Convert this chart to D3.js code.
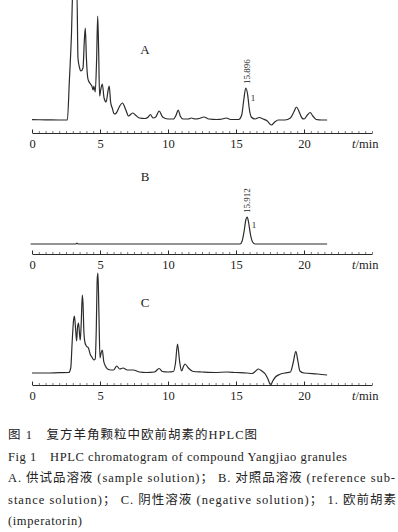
<!DOCTYPE html>
<html>
<head>
<meta charset="utf-8">
<script src="https://cdn.jsdelivr.net/npm/d3@7"></script>
<style>
  html, body { margin: 0; padding: 0; background: #fff; }
  svg { display: block; }
</style>
</head>
<body>
<svg id="chart"></svg>
<script>
// ---- Data: [time (min), signal height] ----
const traceA = [
  [0, 0.3], [1, 0.2], [2, 0], [2.6, 0], [2.75, 40], [2.9, 85], [3.0, 130], [3.1, 135],
  [3.2, 125], [3.3, 130], [3.38, 62], [3.5, 52], [3.6, 49], [3.75, 52], [3.85, 80],
  [3.92, 92], [4.0, 62], [4.1, 42], [4.2, 38], [4.3, 36], [4.4, 34], [4.5, 30],
  [4.55, 34], [4.65, 28], [4.75, 60], [4.83, 104], [4.9, 70], [4.97, 24], [5.05, 30],
  [5.17, 36], [5.3, 22], [5.45, 18], [5.6, 30], [5.68, 34], [5.78, 18], [5.9, 12],
  [6.05, 6], [6.2, 7], [6.45, 14], [6.65, 17], [6.9, 10], [7.1, 4], [7.4, 7], [7.6, 5],
  [7.9, 2], [8.3, 1.5], [8.55, 3], [8.7, 5.5], [8.9, 2], [9.1, 3], [9.35, 9], [9.6, 3],
  [10.0, 1], [10.4, 1], [10.6, 5], [10.75, 10], [10.9, 4], [11.1, 1], [11.5, 1],
  [11.7, 2], [12.0, 1], [12.3, 1.5], [12.65, 3], [13.0, 1], [13.6, 0.5], [14.0, 1],
  [14.3, 2], [14.6, 0.5], [15.2, 0.5], [15.42, 5], [15.57, 20], [15.72, 32], [15.85, 26],
  [15.97, 12], [16.12, 3], [16.4, 1], [16.7, 2.5], [17.0, 1], [17.3, -1], [17.6, -5],
  [17.85, -2], [18.1, 0], [18.6, 0], [19.0, 2], [19.25, 8], [19.45, 13], [19.65, 8],
  [19.85, 2], [20.0, 1], [20.25, 5], [20.45, 7.5], [20.65, 4], [20.9, 0.5], [21.3, 0],
  [21.7, 0]
];

const traceB = [
  [-0.1, 0], [2, 0], [3.2, 0], [3.3, 0.8], [3.4, 0], [8, 0], [12, 0], [15.3, 0],
  [15.45, 3], [15.6, 13], [15.72, 24], [15.82, 27], [15.92, 22], [16.07, 9], [16.22, 2],
  [16.4, 0], [18, 0], [21.7, 0]
];

const traceC = [
  [0, 0], [1, 0], [2, 0.3], [2.7, 0.5], [2.85, 5], [2.95, 30], [3.05, 52], [3.12, 57],
  [3.2, 45], [3.28, 32], [3.35, 46], [3.42, 50], [3.5, 38], [3.55, 33], [3.62, 50],
  [3.7, 78], [3.75, 70], [3.82, 40], [3.9, 30], [4.0, 27], [4.15, 25], [4.3, 18],
  [4.4, 16], [4.55, 13], [4.65, 14], [4.72, 40], [4.8, 95], [4.85, 100], [4.92, 60],
  [5.0, 15], [5.08, 20], [5.17, 23], [5.27, 12], [5.4, 7], [5.55, 4], [5.8, 3], [6.0, 3],
  [6.23, 7], [6.45, 4], [6.7, 5], [7.0, 3], [7.45, 3], [7.9, 1], [8.4, 0.5], [9.0, 1],
  [9.35, 4.5], [9.6, 1.5], [10.0, 1], [10.4, 1.5], [10.55, 10], [10.7, 29], [10.85, 12],
  [11.0, 2], [11.15, 7], [11.25, 9], [11.5, 5], [11.85, 1.5], [12.5, 1], [13.5, 0.5],
  [14.3, 1], [15.0, 0.5], [15.8, 0], [16.2, -0.5], [16.45, 2], [16.65, 4], [16.9, 2],
  [17.15, -1], [17.35, -6], [17.55, -12], [17.7, -8], [17.9, -4], [18.2, -1.5], [18.6, 0],
  [19.0, 1], [19.2, 10], [19.4, 21.6], [19.55, 12], [19.7, 2], [20.0, 0], [21.0, -1],
  [21.7, -2]
];

const majorTicks = [0, 5, 10, 15, 20];
const axisUnit = 'min';
const panelNames = ['A', 'B', 'C'];
const peakTimes = ['15.896', '15.912'];
const peakNo = '1';

const captionLines = [
  '图 1　复方羊角颗粒中欧前胡素的HPLC图',
  'Fig 1　HPLC chromatogram of compound Yangjiao granules',
  'A. 供试品溶液 (sample solution)； B. 对照品溶液 (reference sub-',
  'stance solution)； C. 阴性溶液 (negative solution)； 1. 欧前胡素',
  '(imperatorin)'
];

// ---- Layout ----
const width = 398;
const height = 532;
const ink = '#2b2b2b';
const serif = '"Liberation Serif", "Times New Roman", serif';

const svg = d3.select('#chart').attr('width', width).attr('height', height);

const x = d3.scaleLinear().domain([0, 25]).range([32, 372]);

// one entry per panel: baseline of the trace and position of the time axis
const panels = [
  { name: panelNames[0], data: traceA, base: 120, axisY: 133, labelY: 54 },
  { name: panelNames[1], data: traceB, base: 244, axisY: 254, labelY: 181 },
  { name: panelNames[2], data: traceC, base: 373, axisY: 385, labelY: 307 }
];

panels.forEach(p => {
  // 1 signal unit = 1 px above the baseline
  const y = d3.scaleLinear().domain([0, 100]).range([p.base, p.base - 100]);

  const line = d3.line()
    .x(d => x(d[0]))
    .y(d => y(d[1]))
    .curve(d3.curveMonotoneX);

  svg.append('path')
    .datum(p.data)
    .attr('fill', 'none')
    .attr('stroke', ink)
    .attr('stroke-width', 1.2)
    .attr('stroke-linejoin', 'round')
    .attr('d', line);

  // minor ticks (dense, pointing up)
  svg.append('g')
    .attr('transform', `translate(0,${p.axisY})`)
    .call(d3.axisBottom(x).tickValues(d3.range(0, 25.01, 0.5)).tickSize(-2).tickFormat(''))
    .call(g => g.select('.domain').remove())
    .call(g => g.selectAll('line').attr('stroke', '#555').attr('stroke-width', 0.8));

  // major ticks + labels
  const ax = svg.append('g')
    .attr('transform', `translate(0,${p.axisY})`)
    .call(d3.axisBottom(x).tickValues(majorTicks).tickSize(-3.5).tickSizeOuter(0).tickPadding(6));
  ax.select('.domain').attr('stroke', ink).attr('stroke-width', 1);
  ax.selectAll('line').attr('stroke', ink);
  ax.selectAll('text')
    .attr('fill', '#222')
    .style('font-family', serif)
    .style('font-size', '12.5px');

  // unit label
  const unit = svg.append('text')
    .attr('x', 352)
    .attr('y', p.axisY + 14.5)
    .attr('fill', '#222')
    .style('font-family', serif)
    .style('font-size', '12.5px');
  unit.append('tspan').style('font-style', 'italic').text('t');
  unit.append('tspan').text('/' + axisUnit);

  // panel letter
  svg.append('text')
    .attr('x', 145)
    .attr('y', p.labelY)
    .attr('text-anchor', 'middle')
    .attr('fill', '#222')
    .style('font-family', serif)
    .style('font-size', '13px')
    .text(p.name);

  p.y = y;
});

// ---- Peak annotations (A and B) ----
[[panels[0], peakTimes[0], 15.79, 33, 253, 101], [panels[1], peakTimes[1], 15.83, 28, 254, 228]]
  .forEach(([p, label, t, h, nx, ny]) => {
    const px = x(t) + 3;
    const py = p.y(h) - 3;
    svg.append('text')
      .attr('transform', `translate(${px},${py}) rotate(-90)`)
      .attr('fill', '#222')
      .style('font-family', serif)
      .style('font-size', '9px')
      .text(label);
    svg.append('text')
      .attr('x', nx)
      .attr('y', ny)
      .attr('text-anchor', 'middle')
      .attr('fill', '#222')
      .style('font-family', serif)
      .style('font-size', '9px')
      .text(peakNo);
  });

// ---- Caption ----
const captionBase = [439, 461, 482, 504, 525];
const captionLen = [249, 339, 387, 388, 74];

svg.append('g')
  .selectAll('text')
  .data(captionLines)
  .join('text')
  .attr('x', 8)
  .attr('y', (d, i) => captionBase[i])
  .attr('textLength', (d, i) => captionLen[i])
  .attr('lengthAdjust', 'spacing')
  .attr('fill', '#222')
  .style('font-family', '"Liberation Serif", "Noto Sans CJK SC", serif')
  .style('font-size', '12.5px')
  .text(d => d);
</script>
</body>
</html>
